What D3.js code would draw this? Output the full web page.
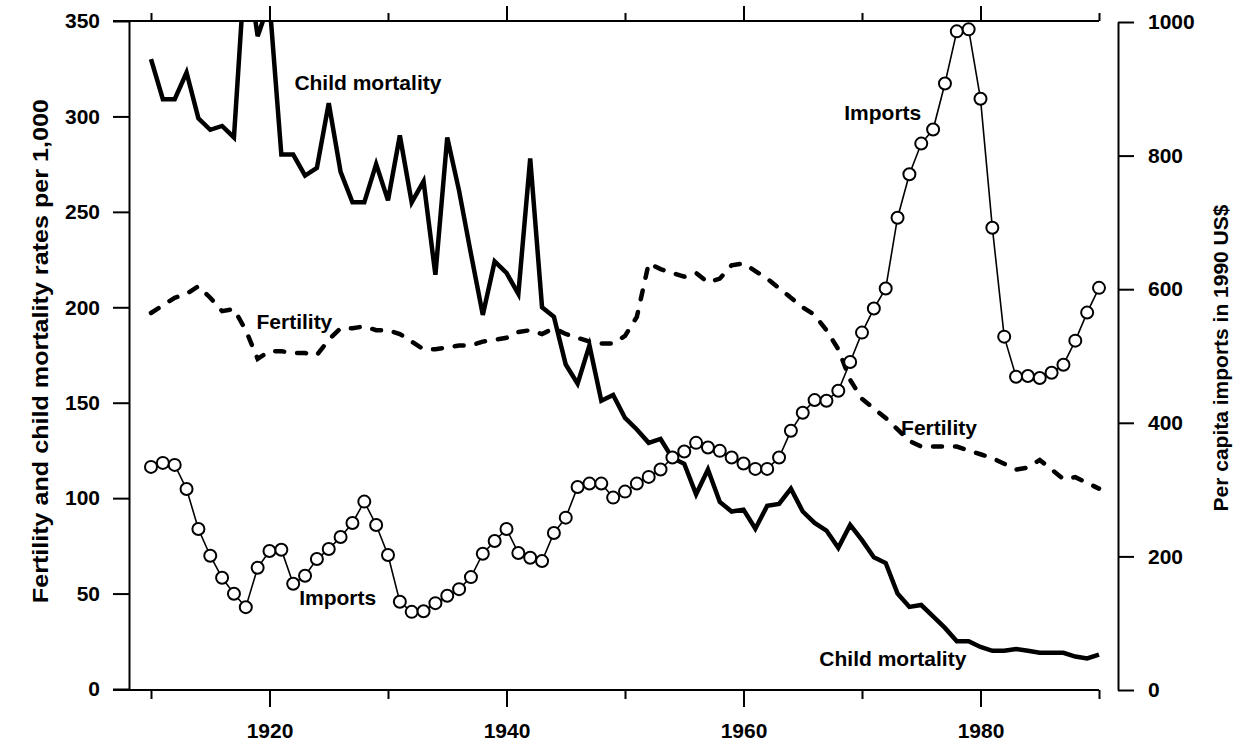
<!DOCTYPE html>
<html>
<head>
<meta charset="utf-8">
<script src="https://cdn.jsdelivr.net/npm/d3@7"></script>
<style>
  body { margin: 0; background: #fff; }
  text { font-family: "Liberation Sans", Arial, sans-serif; font-weight: bold; fill: #000; }
</style>
</head>
<body>
<div id="canvas"></div>
<script>
// years 1910..1990
const years = d3.range(1910, 1991);

// child mortality per 1,000 (left axis)
const childMortality = [330, 309, 309, 323, 299, 293, 295, 289, 385, 342,
  360, 280, 280, 269, 273, 307, 271, 255, 255, 275,
  256, 290, 255, 266, 217, 289, 261, 228, 196, 224,
  218, 207, 278, 200, 195, 170, 160, 180, 151, 154,
  142, 136, 129, 131, 121, 118, 102, 115, 98, 93,
  94, 84, 96, 97, 105, 93, 87, 83, 74, 86,
  78, 69, 66, 50, 43, 44, 38, 32, 25, 25,
  22, 20, 20, 21, 20, 19, 19, 19, 17, 16, 18];

// fertility per 1,000 (left axis)
const fertility = [197, 201, 205, 207, 211, 205, 198, 199, 188, 173,
  177, 177, 176, 176, 175, 183, 189, 189, 190, 188,
  188, 186, 182, 178, 178, 179, 180, 180, 182, 183,
  184, 187, 188, 186, 189, 186, 184, 182, 181, 181,
  185, 195, 223, 220, 218, 216, 218, 213, 215, 222,
  223, 219, 215, 210, 205, 200, 196, 188, 178, 162,
  152, 147, 142, 136, 130, 127, 127, 127, 127, 125,
  123, 121, 118, 115, 116, 120, 115, 110, 111, 108, 105];

// per capita imports, 1990 US$ (right axis)
const imports = [334, 340, 337, 301, 241, 201, 168, 144, 124, 183,
  208, 210, 159, 171, 196, 211, 229, 250, 282, 247,
  202, 132, 117, 118, 130, 141, 151, 169, 204, 223,
  241, 205, 198, 193, 235, 258, 304, 309, 309, 288,
  297, 309, 319, 330, 348, 357, 370, 363, 358, 348,
  339, 331, 331, 348, 388, 415, 434, 433, 448, 491,
  535, 571, 601, 707, 772, 818, 839, 908, 986, 989,
  885, 692, 529, 469, 470, 467, 475, 487, 523, 565, 602];

const leftTicks = [0, 50, 100, 150, 200, 250, 300, 350];
const rightTicks = [0, 200, 400, 600, 800, 1000];
const majorYears = [1920, 1940, 1960, 1980];
const minorYears = [1910, 1930, 1950, 1970, 1990];

// text annotations: label, year, value on left axis
const labelNames = ["Child mortality", "Fertility", "Imports", "Imports", "Fertility", "Child mortality"];
const labelYears = [1922.1, 1918.9, 1922.5, 1968.5, 1973.3, 1966.4];
const labelValues = [313.6, 188.4, 43.8, 298.3, 133.3, 12.3];

const width = 1240;
const height = 748;

const svg = d3.select("#canvas").append("svg")
    .attr("width", width)
    .attr("height", height);

const x = d3.scaleLinear().domain([1910, 1990]).range([151, 1099]);
const yL = d3.scaleLinear().domain([0, 350]).range([689, 21]);
const yR = d3.scaleLinear().domain([0, 1000]).range([690, 22]);

const leftX = 129;
const rightX = 1118;
const tick = 16;

// clip for the lines that run off the top
svg.append("clipPath").attr("id", "plot")
  .append("rect")
    .attr("x", leftX)
    .attr("y", yL(350))
    .attr("width", rightX - leftX)
    .attr("height", yL(0) - yL(350));

// left axis
svg.append("g")
    .attr("transform", `translate(${leftX},0)`)
    .call(d3.axisLeft(yL).tickValues(leftTicks).tickSize(tick).tickSizeOuter(0).tickPadding(13));

// right axis
svg.append("g")
    .attr("transform", `translate(${rightX},0)`)
    .call(d3.axisRight(yR).tickValues(rightTicks).tickSize(tick).tickSizeOuter(0).tickPadding(14)
      .tickFormat(d3.format("d")));

// top frame line + ticks
svg.append("line")
    .attr("x1", leftX - tick).attr("x2", x(1990))
    .attr("y1", yL(350)).attr("y2", yL(350))
    .attr("stroke", "#000").attr("stroke-width", 2);
svg.append("g")
    .attr("transform", `translate(0,${yL(350)})`)
    .call(d3.axisTop(x).tickValues(majorYears).tickSize(15).tickFormat(""))
    .call(g => g.select(".domain").remove());
svg.append("g")
    .attr("transform", `translate(0,${yL(350)})`)
    .call(d3.axisTop(x).tickValues(minorYears).tickSize(8).tickFormat(""))
    .call(g => g.select(".domain").remove());

// bottom frame line + ticks
svg.append("line")
    .attr("x1", leftX - tick).attr("x2", x(1990))
    .attr("y1", yL(0) + 1).attr("y2", yL(0) + 1)
    .attr("stroke", "#000").attr("stroke-width", 2);
svg.append("g")
    .attr("transform", `translate(0,${yL(0) + 1})`)
    .call(d3.axisBottom(x).tickValues(majorYears).tickSize(17).tickPadding(16).tickFormat(d3.format("d")))
    .call(g => g.select(".domain").remove());
svg.append("g")
    .attr("transform", `translate(0,${yL(0) + 1})`)
    .call(d3.axisBottom(x).tickValues(minorYears).tickSize(9).tickFormat(""))
    .call(g => g.select(".domain").remove());

svg.selectAll(".domain, .tick line")
    .attr("stroke", "#000")
    .attr("stroke-width", 2);
svg.selectAll(".tick text")
    .style("font-size", "21px")
    .style("font-family", "'Liberation Sans', Arial, sans-serif")
    .style("font-weight", "bold");

// axis titles
svg.append("text")
    .attr("transform", `translate(48,${yL(177)}) rotate(-90)`)
    .attr("text-anchor", "middle")
    .attr("textLength", 504)
    .attr("lengthAdjust", "spacingAndGlyphs")
    .style("font-size", "22px")
    .text("Fertility and child mortality rates per 1,000");

svg.append("text")
    .attr("transform", `translate(1228,${yR(497)}) rotate(-90)`)
    .attr("text-anchor", "middle")
    .style("font-size", "21px")
    .text("Per capita imports in 1990 US$");

const plot = svg.append("g").attr("clip-path", "url(#plot)");

// fertility dashed
plot.append("path")
    .datum(fertility)
    .attr("fill", "none")
    .attr("stroke", "#000")
    .attr("stroke-width", 4.5)
    .attr("stroke-dasharray", "9,13")
    .attr("stroke-linecap", "round")
    .attr("d", d3.line().x((d, i) => x(years[i])).y(d => yL(d)));

// child mortality solid
plot.append("path")
    .datum(childMortality)
    .attr("fill", "none")
    .attr("stroke", "#000")
    .attr("stroke-width", 4.5)
    .attr("stroke-linejoin", "miter")
    .attr("d", d3.line().x((d, i) => x(years[i])).y(d => yL(d)));

// imports line with open circles
plot.append("path")
    .datum(imports)
    .attr("fill", "none")
    .attr("stroke", "#000")
    .attr("stroke-width", 1.6)
    .attr("d", d3.line().x((d, i) => x(years[i])).y(d => yR(d)));

plot.selectAll("circle")
  .data(imports)
  .enter().append("circle")
    .attr("cx", (d, i) => x(years[i]))
    .attr("cy", d => yR(d))
    .attr("r", 6)
    .attr("fill", "#fff")
    .attr("stroke", "#000")
    .attr("stroke-width", 2);

// annotations
svg.selectAll(".note")
  .data(labelNames)
  .enter().append("text")
    .attr("class", "note")
    .attr("x", (d, i) => x(labelYears[i]))
    .attr("y", (d, i) => yL(labelValues[i]))
    .style("font-size", "21px")
    .text(d => d);
</script>
</body>
</html>
